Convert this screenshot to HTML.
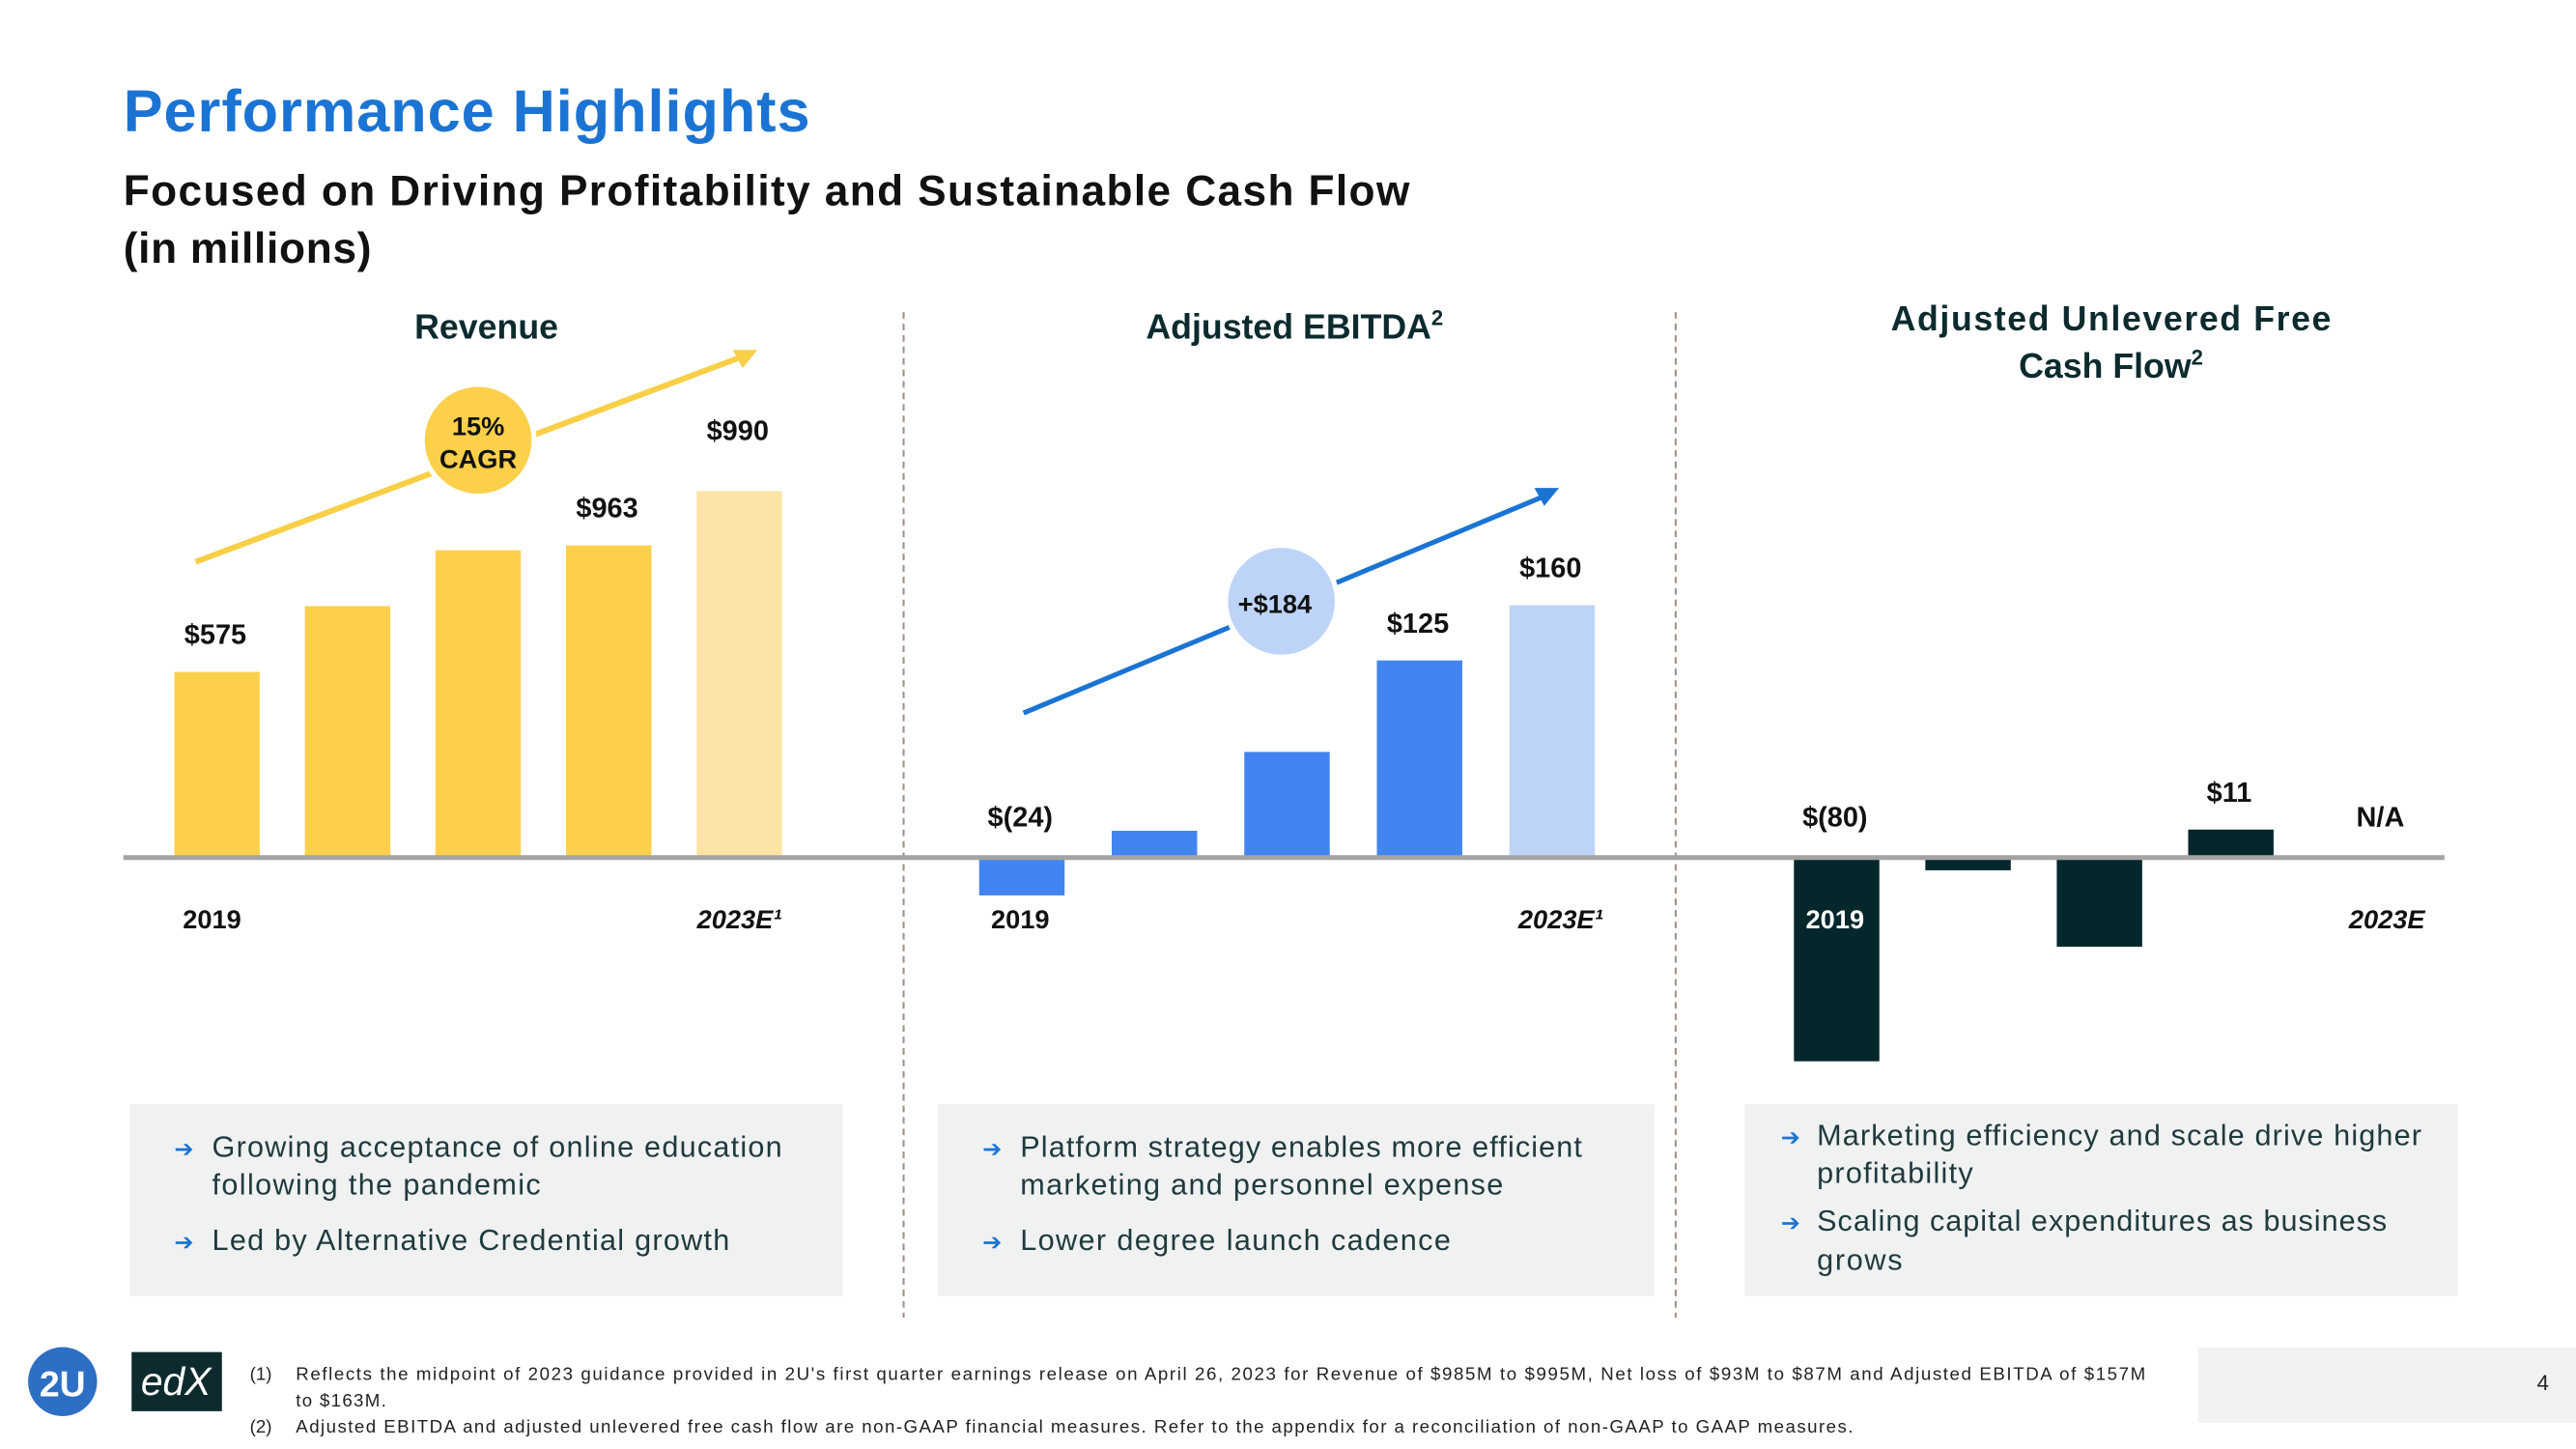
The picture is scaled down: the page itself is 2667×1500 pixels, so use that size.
<!DOCTYPE html>
<html><head><meta charset="utf-8"><style>
html,body{margin:0;padding:0;background:#fff;}
svg{display:block;font-family:"Liberation Sans",sans-serif;}
</style></head><body>
<svg id="s" width="2667" height="1500" viewBox="0 0 1568 882" xmlns="http://www.w3.org/2000/svg">
<text x="75" y="80" font-size="36" font-weight="bold" fill="#1b74d4" textLength="418">Performance Highlights</text>
<text x="75" y="125" font-size="26" font-weight="bold" fill="#111" textLength="783">Focused on Driving Profitability and Sustainable Cash Flow</text>
<text x="75" y="160" font-size="26" font-weight="bold" fill="#111" textLength="151">(in millions)</text>
<text x="296" y="206" font-size="21" font-weight="bold" fill="#0d2b2e" text-anchor="middle">Revenue</text>
<text x="788" y="206" font-size="21" font-weight="bold" fill="#0d2b2e" text-anchor="middle">Adjusted EBITDA<tspan font-size="13" dy="-8">2</tspan></text>
<text x="1285" y="201" font-size="21" font-weight="bold" fill="#0d2b2e" text-anchor="middle" textLength="268">Adjusted Unlevered Free</text>
<text x="1285" y="230" font-size="21" font-weight="bold" fill="#0d2b2e" text-anchor="middle">Cash Flow<tspan font-size="13" dy="-8">2</tspan></text>
<line x1="550" y1="190" x2="550" y2="802" stroke="#a08f86" stroke-width="1.2" stroke-dasharray="4,3"/>
<line x1="1020" y1="190" x2="1020" y2="802" stroke="#a08f86" stroke-width="1.2" stroke-dasharray="4,3"/>
<g id="marks"></g>
<line x1="75" y1="522" x2="1488" y2="522" stroke="#a3a3a3" stroke-width="3"/>
<line x1="119" y1="342" x2="452" y2="217" stroke="#f8cf46" stroke-width="3.5"/>
<polygon points="461,213 446,213 452,224" fill="#f8cf46"/>
<circle cx="291" cy="268" r="34" fill="#fcd04b" stroke="#fff" stroke-width="3"/>
<text x="291" y="265" font-size="16" font-weight="bold" text-anchor="middle" fill="#111">15%</text>
<text x="291" y="285" font-size="16" font-weight="bold" text-anchor="middle" fill="#111">CAGR</text>
<line x1="623" y1="434" x2="940" y2="302" stroke="#1b74d4" stroke-width="3"/>
<polygon points="949,297 934,297 940,308" fill="#1b74d4"/>
<circle cx="780" cy="366" r="34" fill="#bdd4f8" stroke="#fff" stroke-width="3"/>
<text x="776" y="373" font-size="16" font-weight="bold" text-anchor="middle" fill="#111">+$184</text>
<g font-size="18" fill="#1f3a3d">
<rect x="79" y="672" width="434" height="117" fill="#f0f1f1"/>
<text x="106" y="704" fill="#1b74d4" font-size="14">➔</text><text x="129" y="704" textLength="347">Growing acceptance of online education</text>
<text x="129" y="727" textLength="200">following the pandemic</text>
<text x="106" y="761" fill="#1b74d4" font-size="14">➔</text><text x="129" y="761" textLength="315">Led by Alternative Credential growth</text>
<rect x="571" y="672" width="436" height="117" fill="#f0f1f1"/>
<text x="598" y="704" fill="#1b74d4" font-size="14">➔</text><text x="621" y="704" textLength="342">Platform strategy enables more efficient</text>
<text x="621" y="727" textLength="294">marketing and personnel expense</text>
<text x="598" y="761" fill="#1b74d4" font-size="14">➔</text><text x="621" y="761" textLength="262">Lower degree launch cadence</text>
<rect x="1062" y="672" width="434" height="117" fill="#f0f1f1"/>
<text x="1084" y="697" fill="#1b74d4" font-size="14">➔</text><text x="1106" y="697" textLength="368">Marketing efficiency and scale drive higher</text>
<text x="1106" y="720" textLength="95">profitability</text>
<text x="1084" y="749" fill="#1b74d4" font-size="14">➔</text><text x="1106" y="749" textLength="347">Scaling capital expenditures as business</text>
<text x="1106" y="773" textLength="52">grows</text>
</g>
<circle cx="38" cy="841" r="21" fill="#2d6fc4"/>
<text x="38" y="850" font-size="22" font-weight="bold" fill="#fff" text-anchor="middle">2U</text>
<rect x="80" y="823" width="55" height="36" fill="#0d2b2e"/>
<text x="107" y="849" font-size="24" font-style="italic" fill="#fff" text-anchor="middle">edX</text>
<g font-size="11" fill="#222">
<text x="152" y="840">(1)</text><text x="180" y="840" textLength="1126">Reflects the midpoint of 2023 guidance provided in 2U's first quarter earnings release on April 26, 2023 for Revenue of $985M to $995M, Net loss of $93M to $87M and Adjusted EBITDA of $157M</text>
<text x="180" y="856" textLength="55">to $163M.</text>
<text x="152" y="872">(2)</text><text x="180" y="872" textLength="948">Adjusted EBITDA and adjusted unlevered free cash flow are non-GAAP financial measures. Refer to the appendix for a reconciliation of non-GAAP to GAAP measures.</text>
</g>
<rect x="1338" y="820" width="230" height="46" fill="#f2f2f2"/>
<text x="1548" y="846" font-size="13" fill="#222" text-anchor="middle">4</text>
</svg>
<script>
const revYears = ["2019","2020","2021","2022","2023E"];
const revValues = [575, 779, 952, 967, 1135];
const revLabels = ["$575", "", "", "$963", "$990"];
const ebitdaValues = [-24, 17, 67, 125, 160];
const ebitdaLabels = ["$(24)", "", "", "$125", "$160"];
const fcfValues = [-80, -5, -35, 11];
const fcfLabels = ["$(80)", "", "", "$11", "N/A"];

const NS = "http://www.w3.org/2000/svg";
const g = document.getElementById("marks");
const BASE = 522;
function yRev(v){ return BASE - v * 0.1965; }
function yEb(v){ return BASE - v * 0.96; }
function yFcf(v){ return BASE - v * 1.55; }
function xRev(i){ return 106 + i * 79.5; }
function xEb(i){ return 596 + i * 80.7; }
function xFcf(i){ return 1092 + i * 80; }
function mk(tag, attrs){ const e = document.createElementNS(NS, tag); for (const k in attrs) e.setAttribute(k, attrs[k]); g.appendChild(e); return e; }
function label(x, y, txt){
  const t = mk("text", {x: x, y: y, "font-size": 17, "font-weight": "bold", "text-anchor": "middle", fill: "#111"});
  t.textContent = txt;
  
  
}
function drawPanel(values, labels, xf, yf, colorFn, prefix, extra){
  values.forEach((v, i) => {
    const top = Math.min(yf(v), BASE), bot = Math.max(yf(v), BASE);
    const r = mk("rect", {x: xf(i), y: top, width: 52, height: bot - top, fill: colorFn(i)});
    
    
    if (labels[i]) label(xf(i) + 25, v >= 0 ? top - 17 - (extra && i === values.length - 1 ? 14 : 0) : BASE - 19, labels[i]);
  });
}
drawPanel(revValues, revLabels, xRev, yRev, i => i === 4 ? "#fde4a6" : "#fcd04b", "revenue", true);
drawPanel(ebitdaValues, ebitdaLabels, xEb, yEb, i => i === 4 ? "#bdd4f8" : "#4285f0", "ebitda", false);
drawPanel(fcfValues, fcfLabels, xFcf, yFcf, () => "#03272b", "fcf", false);
label(1449, 503, fcfLabels[4]);
function yearLabel(x, txt, italic, fill){
  const t = mk("text", {x: x, y: 565, "font-size": 16, "font-weight": "bold", "text-anchor": "middle", fill: fill || "#111"});
  if (italic) t.setAttribute("font-style", "italic");
  t.textContent = txt;
  
  
}
yearLabel(129, revYears[0]); yearLabel(450, "2023E¹", true);
yearLabel(621, revYears[0]); yearLabel(950, "2023E¹", true);
yearLabel(1117, revYears[0], false, "#fff"); yearLabel(1453, revYears[4], true);
</script>
</body></html>
